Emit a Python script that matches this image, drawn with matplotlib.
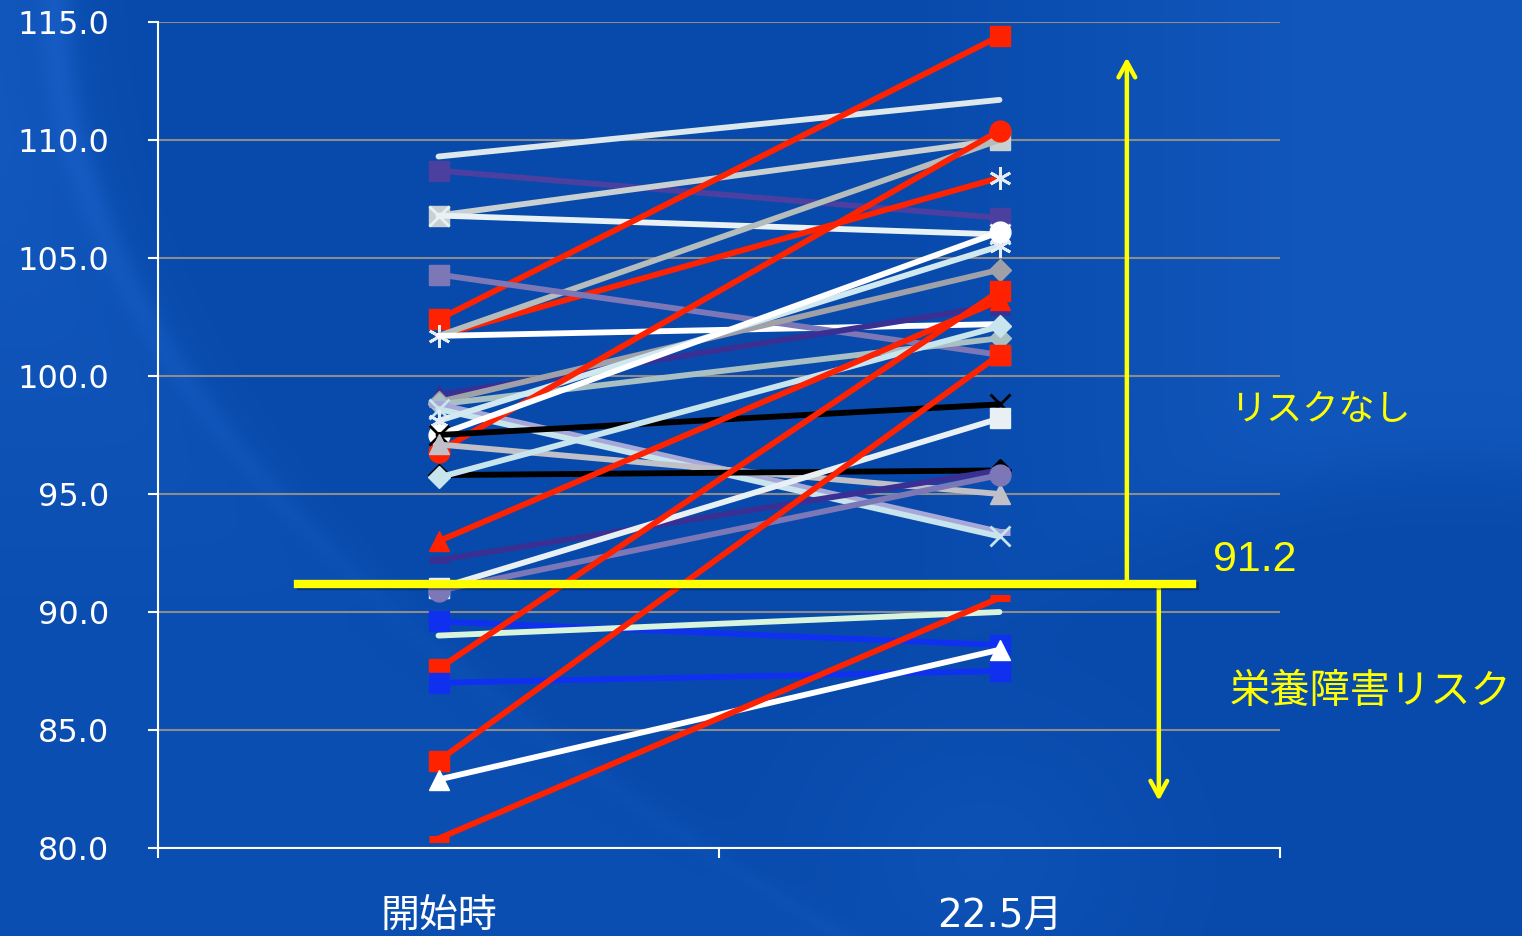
import numpy as np
import matplotlib.pyplot as plt
from matplotlib import patheffects
from matplotlib.ticker import FormatStrFormatter

plt.rcParams['font.family'] = ['DejaVu Sans', 'Noto Sans CJK JP']

categories = ['開始時', '22.5月']

# value at start and at 22.5 months, one entry per patient
start_vals = [109.3, 108.7, 106.8, 106.8, 102.4, 101.7, 101.7, 101.7,
              104.3, 99.2, 98.9, 98.8, 98.8, 98.6, 98.1, 96.8,
              97.5, 97.5, 97.1, 95.8, 95.7, 93.0, 92.2, 91.0,
              90.9, 89.6, 89.0, 87.6, 87.0, 83.7, 82.9, 80.4]
end_vals = [111.7, 106.7, 110.0, 106.0, 114.4, 108.4, 110.0, 102.2,
            100.9, 103.0, 104.5, 101.6, 93.4, 93.2, 105.5, 110.4,
            106.1, 98.8, 95.0, 96.0, 102.1, 103.2, 96.0, 98.2,
            95.8, 88.6, 90.0, 103.6, 87.5, 100.9, 88.4, 90.6]
line_colors = ['#DDE8EC', '#4B3FA0', '#C8D0D2', '#E8F2F4', '#FF2200', '#FF2200', '#B4BCBC', '#FFFFFF',
               '#7C78B8', '#3A2F92', '#A0A0A8', '#A8C0C4', '#A8A8D8', '#C8E4EC', '#D0E8F0', '#FF2200',
               '#FFFFFF', '#000000', '#C0C0C8', '#000000', '#C8E4EC', '#FF2200', '#3A2F92', '#E8F0F4',
               '#7C78B8', '#1030F0', '#D8F4DC', '#FF2200', '#1030F0', '#FF2200', '#FFFFFF', '#FF2200']
ASTER = (6, 2, 0)
markers = [None, 's', 's', 'x', 's', ASTER, None, None,
           's', '^', 'D', 'D', '_', 'x', ASTER, 'o',
           'o', 'x', '^', 'D', 'D', '^', '_', 's',
           'o', 's', None, 's', 's', 's', '^', '_']
threshold = 91.2

W, H = 1522, 936
fig = plt.figure(figsize=(W / 100, H / 100), dpi=100)

# blue background with soft lighter swirls
yy, xx = np.mgrid[0:H, 0:W].astype(float)
img = np.empty((H, W, 3))
base = np.array([8, 74, 172]) / 255
img[:] = base
light = np.zeros((H, W))
edge = 55 + 0.0009 * yy ** 2
vfade = np.clip(1.2 - yy / 700, 0.3, 1)
light += 0.07 * vfade / (1 + np.exp((xx - edge) / 25))
light += 0.05 * vfade * np.exp(-((xx - edge) / 18) ** 2)
r = np.hypot(xx - 1450, yy - 1250)
fade = np.clip((xx - 900) / 400, 0, 1)
light += 0.06 * fade / (1 + np.exp(-(r - 780) / 20))
light += 0.035 * np.exp(-(((xx - 980) / 160) ** 2 + ((yy - 860) / 140) ** 2))
img = np.clip(img + light[..., None] * np.array([0.6, 0.8, 1.0]), 0, 1)
bg = fig.add_axes([0, 0, 1, 1], zorder=-1)
bg.imshow(img, aspect='auto', interpolation='bilinear')
bg.axis('off')

ax = fig.add_axes([158 / W, 1 - 848 / H, (1280 - 158) / W, (848 - 22) / H])
ax.set_facecolor('none')
ax.set_xlim(-0.5, 1.5)
ax.set_ylim(80, 115)

xpos = np.arange(len(categories))
for s, e, c, m in zip(start_vals, end_vals, line_colors, markers):
    ms = 14
    mec = c
    mew = 1
    if m == 'o':
        ms = 15
    elif m == 'D':
        ms = 11
    elif m == 'x':
        mew = 2
    elif m == '_':
        mew = 5
    elif m == ASTER:
        ms = 16
        mew = 2
        mec = '#E4ECF4'
    ax.plot(xpos, [s, e], color=c, lw=4.2, marker=m, ms=ms,
            mfc=c, mec=mec, mew=mew, solid_capstyle='round', clip_on=False)

ax.set_yticks(np.arange(80, 115.1, 5))
ax.yaxis.set_major_formatter(FormatStrFormatter('%.1f'))
ax.yaxis.grid(True, color='#8C8C8C', lw=1.5)
ax.set_axisbelow(True)
for side in ['top', 'right']:
    ax.spines[side].set_visible(False)
for side in ['left', 'bottom']:
    ax.spines[side].set_color('white')
    ax.spines[side].set_linewidth(1.5)

ax.set_xticks([-0.5, 0.5, 1.5])
ax.set_xticklabels([])
ax.set_xticks(xpos, minor=True)
ax.set_xticklabels(categories, minor=True)
ax.tick_params(axis='x', which='major', length=7, width=1.5, color='white')
ax.tick_params(axis='x', which='minor', length=0, pad=36, labelsize=28, labelcolor='white')
ax.tick_params(axis='y', length=7, width=1.5, colors='white', labelsize=23, pad=28)

# cut-off line and arrows
shadow = [patheffects.SimpleLineShadow(offset=(2, -2), shadow_color='black', alpha=0.35),
          patheffects.Normal()]
ax.plot([-0.25, 1.343], [threshold, threshold], color='#FFFF00', lw=6,
        clip_on=False, path_effects=shadow, zorder=5)
arrow = dict(arrowstyle='->,head_length=1.1,head_width=0.6', color='#FFFF00',
             lw=3.2, shrinkA=0, shrinkB=0)
ax.annotate('', xy=(1.227, 113.5), xytext=(1.227, threshold), arrowprops=arrow,
            annotation_clip=False)
ax.annotate('', xy=(1.284, 82.0), xytext=(1.284, threshold - 0.15), arrowprops=arrow,
            annotation_clip=False)

fig.text(1230 / W, 1 - 410 / H, 'リスクなし', color='#FFFF00', fontsize=26,
         va='center', ha='left', family=['Noto Sans CJK JP'])
fig.text(1213 / W, 1 - 560 / H, f'{threshold}', color='#FFFF00', fontsize=31,
         va='center', ha='left', family=['Liberation Sans'])
fig.text(1230 / W, 1 - 692 / H, '栄養障害リスク', color='#FFFF00', fontsize=29,
         va='center', ha='left', family=['Noto Sans CJK JP'])

fig.savefig('out.png', dpi=100)
